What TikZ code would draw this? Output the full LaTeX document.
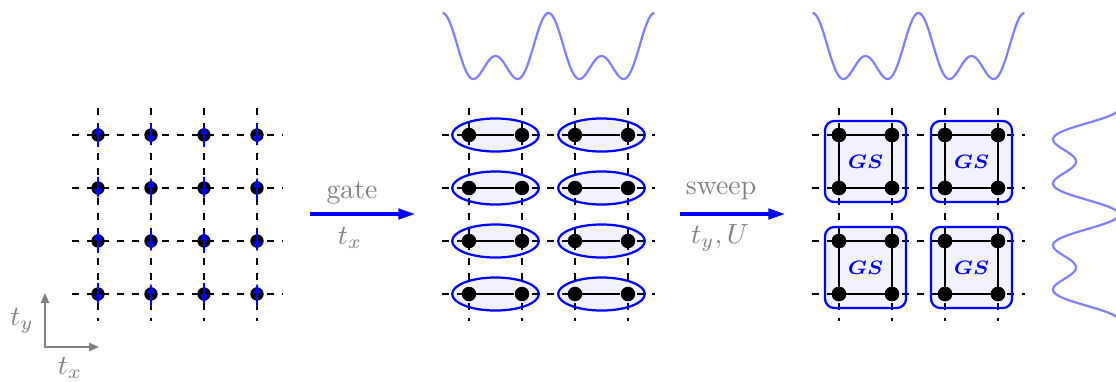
\documentclass[tikz,border=0pt]{standalone}
\usetikzlibrary{arrows.meta,shapes.geometric}
\begin{document}
\begin{tikzpicture}[x=0.36pt,y=-0.36pt,
  gridline/.style={black, line width=0.75pt, dash pattern=on 2.6pt off 2.8pt},
  dotbig/.style={circle, fill=black, inner sep=0pt, minimum size=4.8pt},
  dotnode/.style={circle, fill=black, inner sep=0pt, minimum size=5.2pt},
  spin/.style={blue, line width=1pt, -{Latex[length=3.9pt,width=3.1pt]}},
  bond/.style={black, line width=0.8pt},
  pairfill/.style={ellipse, fill=blue!5, inner sep=0pt, minimum width=31.2pt, minimum height=11.9pt},
  pairline/.style={ellipse, draw=blue, line width=0.8pt, inner sep=0pt, minimum width=31.2pt, minimum height=11.9pt},
  boxfill/.style={rectangle, rounded corners=3.4pt, fill=blue!5, inner sep=0pt, minimum size=29.2pt},
  boxline/.style={rectangle, rounded corners=3.4pt, draw=blue, line width=0.8pt, inner sep=0pt, minimum size=29.2pt, text=blue, font=\fontsize{7.5}{9}\selectfont\boldmath},
  pot/.style={blue!50, line width=0.8pt},
  bigarrow/.style={blue, line width=1.1pt, -{Triangle[length=6pt,width=3.8pt]}},
  axisarrow/.style={gray, line width=0.6pt, {Triangle[length=3.6pt,width=3pt]}-{Triangle[length=3.6pt,width=3pt]}},
  lbl/.style={text=gray, inner sep=0pt}
]
\useasboundingbox (0,0) rectangle (1116,381);
\clip (0,0) rectangle (1116,381);

% ---------- left grid ----------
\foreach \y in {135,188,241,294} \draw[gridline] (72,\y) -- (283,\y);
\foreach \x in {98,151,204,257} \draw[gridline] (\x,108) -- (\x,321);
\foreach \x [count=\c] in {98,151,204,257} {
  \foreach \y [count=\r] in {135,188,241,294} {
    \node[dotbig] (s-\r-\c) at (\x,\y) {};
  }
}
\foreach \c in {1,2,3,4} {
  \foreach \r in {1,2,3,4} {
    \pgfmathtruncatemacro\spinpar{mod(\r+\c,2)}
    \ifnum\spinpar=0
      \draw[spin] (s-\r-\c.center) ++(0,11.5) -- ++(0,-23);
    \else
      \draw[spin] (s-\r-\c.center) ++(0,-11.5) -- ++(0,23);
    \fi
  }
}

% axes
\coordinate (o) at (45,347);
\coordinate (ay) at (45,293);
\coordinate (ax) at (99,347);
\draw[axisarrow] (ay) -- (o) -- (ax);
\node[lbl] (ty) at (22,321) {$t_y$};
\node[lbl] (tx) at (70,368) {$t_x$};

% gate arrow
\coordinate (ga) at (310,214);
\coordinate (gb) at (415,214);
\draw[bigarrow] (ga) -- (gb);
\node[lbl] (gate) at (352,193) {gate};
\node[lbl] (gtx) at (350,238) {$t_x$};

% ---------- middle grid ----------
\foreach \y [count=\r] in {135,188,241,294} {
  \node[pairfill] (ef-\r-1) at (495.5,\y) {};
  \node[pairfill] (ef-\r-2) at (601.5,\y) {};
}
\foreach \y in {135,188,241,294} \draw[gridline] (442,\y) -- (655,\y);
\foreach \x in {469,522,575,628} \draw[gridline] (\x,108) -- (\x,321);
\foreach \x [count=\c] in {469,522,575,628} {
  \foreach \y [count=\r] in {135,188,241,294} {
    \node[dotnode] (m-\r-\c) at (\x,\y) {};
  }
}
\foreach \r in {1,2,3,4} {
  \draw[bond] (m-\r-1) -- (m-\r-2);
  \draw[bond] (m-\r-3) -- (m-\r-4);
  \node[pairline] (eb-\r-1) at (ef-\r-1) {};
  \node[pairline] (eb-\r-2) at (ef-\r-2) {};
}
\draw[pot] plot[domain=0:2, samples=161, smooth] ({442.5+106*\x}, {79-(21.5*cos(360*\x)+20.87*cos(720*\x)+23.63)});

% sweep arrow
\coordinate (sa) at (680,214);
\coordinate (sb) at (785,214);
\draw[bigarrow] (sa) -- (sb);
\node[lbl] (sweep) at (721,191) {sweep};
\node[lbl] (styu) at (720,238) {$t_y,U$};

% ---------- right grid ----------
\foreach \x [count=\c] in {865.5,971.5} {
  \foreach \y [count=\r] in {161.5,267.5} {
    \node[boxfill] (bf-\r-\c) at (\x,\y) {};
  }
}
\foreach \y in {135,188,241,294} \draw[gridline] (812,\y) -- (1025,\y);
\foreach \x in {839,892,945,998} \draw[gridline] (\x,108) -- (\x,321);
\foreach \x [count=\c] in {839,892,945,998} {
  \foreach \y [count=\r] in {135,188,241,294} {
    \node[dotnode] (q-\r-\c) at (\x,\y) {};
  }
}
\foreach \a/\b in {1/1,1/3,3/1,3/3} {
  \pgfmathtruncatemacro\an{\a+1}
  \pgfmathtruncatemacro\bn{\b+1}
  \draw[bond] (q-\a-\b.center) -- (q-\a-\bn.center) -- (q-\an-\bn.center) -- (q-\an-\b.center) -- cycle;
}
\foreach \x [count=\c] in {839,892,945,998} {
  \foreach \y [count=\r] in {135,188,241,294} {
    \node[dotnode] (qd-\r-\c) at (q-\r-\c) {};
  }
}
\foreach \x [count=\c] in {865.5,971.5} {
  \foreach \y [count=\r] in {161.5,267.5} {
    \node[boxline] (bl-\r-\c) at (bf-\r-\c) {$GS$};
  }
}
\draw[pot] plot[domain=0:2, samples=161, smooth] ({812.5+106*\x}, {79-(21.5*cos(360*\x)+20.87*cos(720*\x)+23.63)});
\draw[pot] plot[domain=0:2, samples=161, smooth] ({1053+21.5*cos(360*\x)+20.87*cos(720*\x)+23.63}, {108.5+106*\x});
\end{tikzpicture}
\end{document}
